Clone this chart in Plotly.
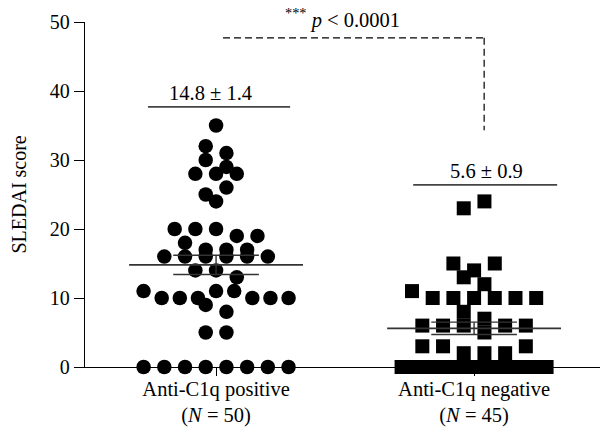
import numpy as np
import plotly.graph_objects as go

# ---------------- data ----------------
categories = ["Anti-C1q positive", "Anti-C1q negative"]
group_n = [50, 45]
positive_scores = [35, 32, 30, 31, 28, 28, 28, 29, 25, 26, 24,
                   20, 20, 20, 19, 19, 18, 17, 17, 17,
                   16, 16, 16, 16, 16, 16, 14, 14, 13,
                   11, 10, 10, 10, 11, 11, 10, 10, 10, 9, 8, 5, 5,
                   0, 0, 0, 0, 0, 0, 0, 0]
negative_scores = [23, 24, 15, 14, 15, 13, 12,
                   11, 10, 10, 10, 10, 10, 10, 8, 7,
                   6, 6, 6, 5, 6, 6, 3, 3, 2, 2, 2, 3,
                   0, 0, 0, 0, 0, 0, 0, 0, 0, 0, 0, 0, 0, 0, 0, 0, 0]
group_means = [14.8, 5.6]
group_sems = [1.4, 0.9]
summary_labels = ["14.8 ± 1.4", "5.6 ± 0.9"]
p_label = "<sup>***</sup> <i>p</i> &lt; 0.0001"
y_ticks = [0, 10, 20, 30, 40, 50]
y_title = "SLEDAI score"

FONT = "Liberation Serif, Times New Roman, serif"
PX_PER_UNIT_X = 258.0


def swarm_offsets(values, step_px=20.7, max_w_px=145.0, bin_h=2.0):
    """Bin values from the top down and spread every bin horizontally."""
    vals = list(values)
    order = sorted(range(len(vals)), key=lambda i: -vals[i])
    offsets = [0.0] * len(vals)
    bins = []
    cur = []
    top = None
    for i in order:
        if top is None or vals[i] <= top - bin_h:
            if cur:
                bins.append(cur)
            cur = [i]
            top = vals[i]
        else:
            cur.append(i)
    if cur:
        bins.append(cur)
    for b in bins:
        b = sorted(b)
        n = len(b)
        step = step_px
        if n > 1 and (n - 1) * step > max_w_px:
            step = max_w_px / (n - 1)
        for k, i in enumerate(b):
            offsets[i] = (k - (n - 1) / 2.0) * step / PX_PER_UNIT_X
    return offsets


fig = go.Figure()

pos_off = swarm_offsets(positive_scores)
neg_off = swarm_offsets(negative_scores)

fig.add_trace(go.Scatter(
    x=[0 + o for o in pos_off], y=positive_scores, mode="markers",
    marker=dict(symbol="circle", size=14.5, color="black", line=dict(width=0)),
    cliponaxis=False, showlegend=False, hoverinfo="skip"))
fig.add_trace(go.Scatter(
    x=[1 + o for o in neg_off], y=negative_scores, mode="markers",
    marker=dict(symbol="square", size=14, color="black", line=dict(width=0)),
    cliponaxis=False, showlegend=False, hoverinfo="skip"))

line_col = "#333333"
for gi, (m, s) in enumerate(zip(group_means, group_sems)):
    fig.add_shape(type="line", xref="x", yref="y", x0=gi - 0.337, x1=gi + 0.337,
                  y0=m, y1=m, line=dict(color=line_col, width=1.7))
    for v in (m - s, m + s):
        fig.add_shape(type="line", xref="x", yref="y", x0=gi - 0.166, x1=gi + 0.166,
                      y0=v, y1=v, line=dict(color=line_col, width=1.4))
    fig.add_shape(type="line", xref="x", yref="y", x0=gi, x1=gi,
                  y0=m - s, y1=m + s, line=dict(color=line_col, width=1.4))

label_specs = [(-0.264, 0.287, 37.7, -0.023), (0.764, 1.322, 26.4, 1.05)]
for (x0, x1, yl, xt), txt in zip(label_specs, summary_labels):
    fig.add_shape(type="line", xref="x", yref="y", x0=x0, x1=x1, y0=yl, y1=yl,
                  line=dict(color="#444444", width=1.6))
    fig.add_annotation(x=xt, y=yl + 2.0, xref="x", yref="y", text=txt,
                       showarrow=False, xanchor="center", yanchor="middle",
                       font=dict(family=FONT, size=20.5, color="black"))

fig.add_shape(type="line", xref="x", yref="y", x0=0.027, x1=1.039, y0=47.7, y1=47.7,
              line=dict(color="black", width=1.2, dash="7px,4px"))
fig.add_shape(type="line", xref="x", yref="y", x0=1.039, x1=1.039, y0=47.7, y1=34.3,
              line=dict(color="black", width=1.2, dash="7px,4px"))
fig.add_annotation(x=0.49, y=1.01, xref="x", yref="paper", text=p_label,
                   showarrow=False, xanchor="center", yanchor="middle",
                   font=dict(family=FONT, size=20.5, color="black"))

# y-axis title
fig.add_annotation(x=-0.13, y=0.5, xref="paper", yref="paper", text=y_title,
                   textangle=-90, showarrow=False, xanchor="center", yanchor="middle",
                   font=dict(family=FONT, size=20, color="black"))

ticktext = [f"{c}<br>(<i>N</i> = {n})" for c, n in zip(categories, group_n)]

fig.update_layout(
    width=600, height=435,
    margin=dict(l=85, r=0, t=22, b=68, autoexpand=False),
    paper_bgcolor="white", plot_bgcolor="white",
    font=dict(family=FONT, size=20, color="black"),
    xaxis=dict(range=[-0.508, 1.488], tickvals=[0, 1], ticktext=ticktext,
               showline=True, linecolor="black", linewidth=1.3,
               ticks="outside", ticklen=8, tickwidth=1.3, tickcolor="black",
               ticklabelstandoff=-5, automargin=False,
               showgrid=False, zeroline=False, fixedrange=True,
               tickfont=dict(family=FONT, size=20.5, color="black")),
    yaxis=dict(range=[0, 50], tickvals=y_ticks,
               showline=True, linecolor="black", linewidth=1.3,
               ticks="outside", ticklen=10, tickwidth=1.3, tickcolor="black",
               ticklabelstandoff=0, automargin=False,
               showgrid=False, zeroline=False, fixedrange=True,
               tickfont=dict(family=FONT, size=20, color="black")),
)

fig.write_html("out.html", config={"displayModeBar": False},
               post_script="document.body.style.margin='0px';document.body.style.padding='0px';")
